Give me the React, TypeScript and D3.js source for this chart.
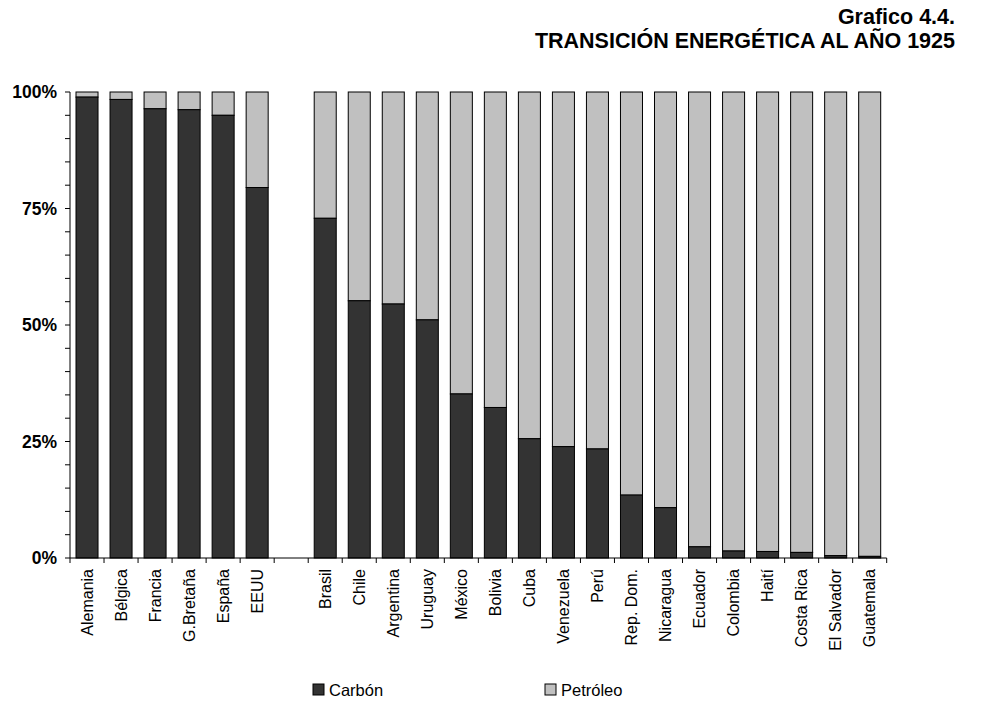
import React from "react";
import * as d3 from "d3";

const categories = [
  "Alemania", "Bélgica", "Francia", "G.Bretaña", "España", "EEUU", "",
  "Brasil", "Chile", "Argentina", "Uruguay", "México", "Bolivia", "Cuba",
  "Venezuela", "Perú", "Rep. Dom.", "Nicaragua", "Ecuador", "Colombia",
  "Haití", "Costa Rica", "El Salvador", "Guatemala",
];
const carbon = [
  98.9, 98.4, 96.4, 96.2, 95.0, 79.5, 0,
  72.9, 55.2, 54.5, 51.1, 35.2, 32.3, 25.6,
  23.9, 23.4, 13.5, 10.8, 2.4, 1.5,
  1.4, 1.2, 0.5, 0.35,
];
const petroleo = carbon.map((c, i) => (categories[i] === "" ? 0 : 100 - c));
const yTicks = [0, 25, 50, 75, 100];
const yMinorTicks = d3.range(0, 101, 5);
const seriesNames = ["Carbón", "Petróleo"];
const colors = ["#333333", "#c0c0c0"];
const titleLines = ["Grafico 4.4.", "TRANSICIÓN ENERGÉTICA AL AÑO 1925"];

const FONT = "Arial, 'Liberation Sans', Helvetica, sans-serif";

export default function App() {
  const W = 987, H = 702;
  const left = 70, right = 886.7, top = 92, bottom = 558;
  const keys = categories.map((c, i) => (c === "" ? `__blank${i}` : c));
  const x = d3.scaleBand<string>().domain(keys).range([left, right]).paddingInner(0.353).paddingOuter(0.1765);
  const y = d3.scaleLinear().domain([0, 100]).range([bottom, top]);
  const step = x.step();
  const tickXs = d3.range(categories.length + 1).map((i) => left + i * step);

  return (
    <svg width={W} height={H} style={{ position: "absolute", left: 0, top: 0, background: "#fff" }} fontFamily={FONT}>
      <rect x={0} y={0} width={W} height={H} fill="#fff" />
      {/* title */}
      <text x={955} y={24} textAnchor="end" fontWeight="bold" fontSize={21.5}>{titleLines[0]}</text>
      <text x={955} y={48} textAnchor="end" fontWeight="bold" fontSize={21.5}>{titleLines[1]}</text>

      {/* bars */}
      {keys.map((k, i) => {
        if (categories[i] === "") return null;
        const bx = x(k)!;
        const bw = x.bandwidth();
        const c = carbon[i];
        const p = petroleo[i];
        return (
          <g key={k}>
            <rect x={bx} y={y(c + p)} width={bw} height={y(c) - y(c + p)} fill={colors[1]} stroke="#000" strokeWidth={1} />
            <rect x={bx} y={y(c)} width={bw} height={y(0) - y(c)} fill={colors[0]} stroke="#000" strokeWidth={1} />
          </g>
        );
      })}

      {/* y axis */}
      <line x1={left} x2={left} y1={top} y2={bottom} stroke="#000" strokeWidth={1} />
      {yMinorTicks.map((t) => (
        <line key={t} x1={left - 5} x2={left} y1={y(t)} y2={y(t)} stroke="#000" strokeWidth={1} />
      ))}
      {yTicks.map((t) => (
        <text key={t} x={57} y={y(t)} dy="0.35em" textAnchor="end" fontWeight="bold" fontSize={17.5}>{`${t}%`}</text>
      ))}

      {/* x axis */}
      <line x1={left} x2={right} y1={bottom} y2={bottom} stroke="#000" strokeWidth={1} />
      {tickXs.map((tx, i) => (
        <line key={i} x1={tx} x2={tx} y1={bottom} y2={bottom + 5} stroke="#000" strokeWidth={1} />
      ))}
      {keys.map((k, i) => {
        if (categories[i] === "") return null;
        const cx = x(k)! + x.bandwidth() / 2;
        return (
          <text key={k} transform={`translate(${cx},${bottom + 11}) rotate(-90)`} textAnchor="end" dy="0.35em" fontSize={16}>
            {categories[i]}
          </text>
        );
      })}

      {/* legend */}
      {seriesNames.map((s, i) => {
        const lx = i === 0 ? 313 : 545;
        return (
          <g key={s}>
            <rect x={lx} y={684} width={11} height={11} fill={colors[i]} stroke="#000" strokeWidth={1} />
            <text x={lx + 16} y={690} dy="0.35em" fontSize={16.5}>{s}</text>
          </g>
        );
      })}
    </svg>
  );
}
